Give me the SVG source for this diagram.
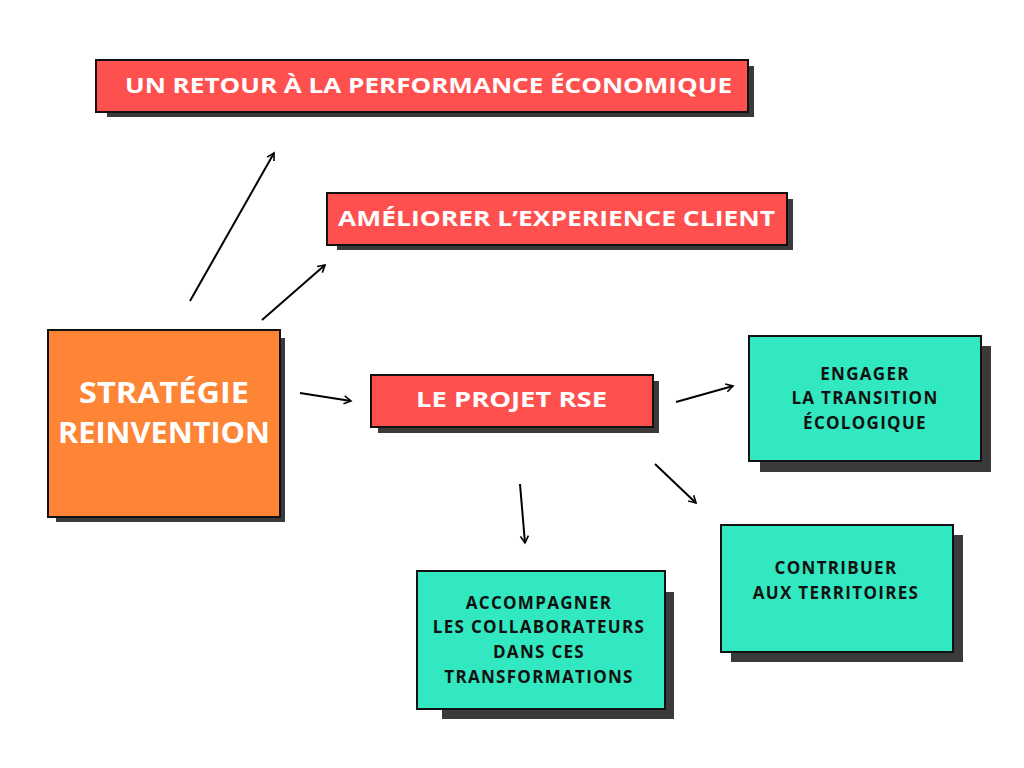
<svg xmlns="http://www.w3.org/2000/svg" width="1024" height="768" viewBox="0 0 1024 768">
<style>
.sh{fill:#3a3a3a}
.red{fill:#ff5050;stroke:#111;stroke-width:2}
.or{fill:#fe8436;stroke:#111;stroke-width:2}
.gr{fill:#31e8c0;stroke:#111;stroke-width:2}
.w{fill:#fff;font-family:"Open Sans","Liberation Sans",sans-serif;font-weight:bold}
.k{fill:#111;font-family:"Open Sans","Liberation Sans",sans-serif;font-weight:bold;font-size:17px;letter-spacing:1.3px;text-anchor:middle}
.c{stroke:#000;stroke-width:2;fill:none;marker-end:url(#a)}
</style>
<defs><marker id="a" markerWidth="10" markerHeight="10" refX="8" refY="5" orient="auto" markerUnits="userSpaceOnUse"><path d="M1,1 L8,5 L1,9" fill="none" stroke="#000" stroke-width="1.6"/></marker></defs>
<rect width="1024" height="768" fill="#fff"/>
<g id="n1"><rect class="sh" x="107" y="66" width="647" height="51"/><rect class="red" x="96" y="60" width="652" height="52"/><text class="w" x="125" y="93" font-size="22" textLength="607" lengthAdjust="spacingAndGlyphs">UN RETOUR À LA PERFORMANCE ÉCONOMIQUE</text></g>
<g id="n2"><rect class="sh" x="337" y="199" width="456" height="51"/><rect class="red" x="327" y="193" width="460" height="52"/><text class="w" x="338" y="226" font-size="22" textLength="437" lengthAdjust="spacingAndGlyphs">AMÉLIORER L’EXPERIENCE CLIENT</text></g>
<g id="n3"><rect class="sh" x="56" y="338" width="229" height="184"/><rect class="or" x="48" y="330" width="232" height="187"/><text class="w" x="164" y="403" font-size="28" text-anchor="middle" textLength="170" lengthAdjust="spacingAndGlyphs">STRATÉGIE</text><text class="w" x="164" y="443" font-size="28" text-anchor="middle" textLength="212" lengthAdjust="spacingAndGlyphs">REINVENTION</text></g>
<g id="n4"><rect class="sh" x="378" y="381" width="281" height="52"/><rect class="red" x="371" y="375" width="282" height="52"/><text class="w" x="416" y="407" font-size="22" textLength="191" lengthAdjust="spacingAndGlyphs">LE PROJET RSE</text></g>
<g id="n5"><rect class="sh" x="760" y="346" width="231" height="126"/><rect class="gr" x="749" y="336" width="232" height="125"/><text class="k" x="865" y="380">ENGAGER</text><text class="k" x="865" y="404">LA TRANSITION</text><text class="k" x="865" y="429">ÉCOLOGIQUE</text></g>
<g id="n6"><rect class="sh" x="731" y="535" width="232" height="127"/><rect class="gr" x="721" y="525" width="232" height="127"/><text class="k" x="836" y="574">CONTRIBUER</text><text class="k" x="836" y="599">AUX TERRITOIRES</text></g>
<g id="n7"><rect class="sh" x="442" y="592" width="232" height="127"/><rect class="gr" x="417" y="571" width="248" height="138"/><text class="k" x="539" y="609">ACCOMPAGNER</text><text class="k" x="539" y="633">LES COLLABORATEURS</text><text class="k" x="539" y="658">DANS CES</text><text class="k" x="539" y="683">TRANSFORMATIONS</text></g>
<g id="connectors">
<line class="c" x1="190" y1="301" x2="274" y2="153"/>
<line class="c" x1="262" y1="320" x2="325" y2="265"/>
<line class="c" x1="300" y1="393" x2="351" y2="401"/>
<line class="c" x1="676" y1="402" x2="733" y2="386"/>
<line class="c" x1="655" y1="464" x2="696" y2="503"/>
<line class="c" x1="520" y1="484" x2="525" y2="543"/>
</g>
</svg>
